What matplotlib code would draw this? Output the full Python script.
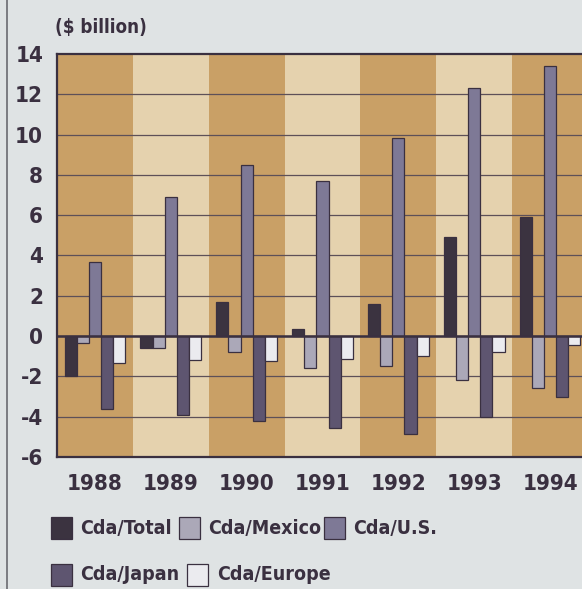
import numpy as np
import matplotlib.pyplot as plt
from matplotlib.patches import Rectangle
from matplotlib.lines import Line2D

# Trade balances by partner, $ billion
years = ["1988", "1989", "1990", "1991", "1992", "1993", "1994"]
cda_total = [-2.0, -0.6, 1.7, 0.35, 1.6, 4.9, 5.9]
cda_mexico = [-0.35, -0.6, -0.8, -1.6, -1.5, -2.2, -2.6]
cda_us = [3.7, 6.9, 8.5, 7.7, 9.85, 12.3, 13.4]
cda_japan = [-3.6, -3.9, -4.2, -4.55, -4.85, -4.0, -3.0]
cda_europe = [-1.35, -1.2, -1.25, -1.15, -1.0, -0.8, -0.45]

series = [
    ("Cda/Total", cda_total, "#3b3340"),
    ("Cda/Mexico", cda_mexico, "#aba8b8"),
    ("Cda/U.S.", cda_us, "#7e7996"),
    ("Cda/Japan", cda_japan, "#5e5570"),
    ("Cda/Europe", cda_europe, "#ebebef"),
]

ink = "#3a3040"
bg = "#dfe3e4"
band_dark = "#c9a066"
band_light = "#e5d2ae"

plt.rcParams['font.family'] = ['DejaVu Sans']
plt.rcParams['font.stretch'] = 'condensed'
plt.rcParams['axes.unicode_minus'] = False

fig = plt.figure(figsize=(5.82, 5.89), dpi=100, facecolor=bg)
ax = fig.add_axes([57 / 582, 132 / 589, 531 / 582, 403 / 589])
ax.set_facecolor(bg)

x = np.arange(len(years))
w = 0.16

# alternating year bands
for i in x:
    ax.axvspan(i - 0.5, i + 0.5, color=band_dark if i % 2 == 0 else band_light,
               lw=0, zorder=0)

for yv in range(-4, 14, 2):
    ax.axhline(yv, color="#5d5058", lw=0.9, zorder=1)
ax.axhline(0, color=ink, lw=1.8, zorder=3)

for k, (name, vals, col) in enumerate(series):
    ax.bar(x + (k - 2) * w, vals, width=w, color=col, edgecolor=ink,
           linewidth=0.9, zorder=2)

ax.set_xlim(-0.5, 6.5)
ax.set_ylim(-6, 14)
ax.set_yticks(range(-6, 15, 2))
ax.set_xticks(x)
ax.set_xticklabels(years)
ax.tick_params(length=0, labelsize=16, colors=ink)
ax.tick_params(axis='y', pad=10)
ax.tick_params(axis='x', pad=12)
for lab in ax.get_xticklabels() + ax.get_yticklabels():
    lab.set_fontweight('bold')

for side in ["top", "left", "bottom"]:
    ax.spines[side].set_color(ink)
    ax.spines[side].set_linewidth(1.6)
ax.spines["right"].set_visible(False)

fig.text(55 / 582, 1 - 27 / 589, "($ billion)", fontsize=13.5, fontweight='bold',
         color=ink, va='center', ha='left')

# page border on the left
fig.add_artist(Line2D([7 / 582, 7 / 582], [0, 1], color="#6a6a70", lw=1.2))

# legend drawn by hand in two rows
legend_pos = [
    (51, 528, 80), (179, 528, 208), (324, 528, 353),
    (51, 575, 80), (187, 575, 217),
]
for (name, vals, col), (sx, cy, tx) in zip(series, legend_pos):
    fig.add_artist(Rectangle((sx / 582, 1 - (cy + 11) / 589), 21 / 582, 22 / 589,
                             facecolor=col, edgecolor=ink, lw=0.9,
                             transform=fig.transFigure))
    fig.text(tx / 582, 1 - cy / 589, name, fontsize=14, fontweight='bold',
             color=ink, va='center', ha='left')

fig.savefig("out.png", dpi=100, facecolor=bg)
